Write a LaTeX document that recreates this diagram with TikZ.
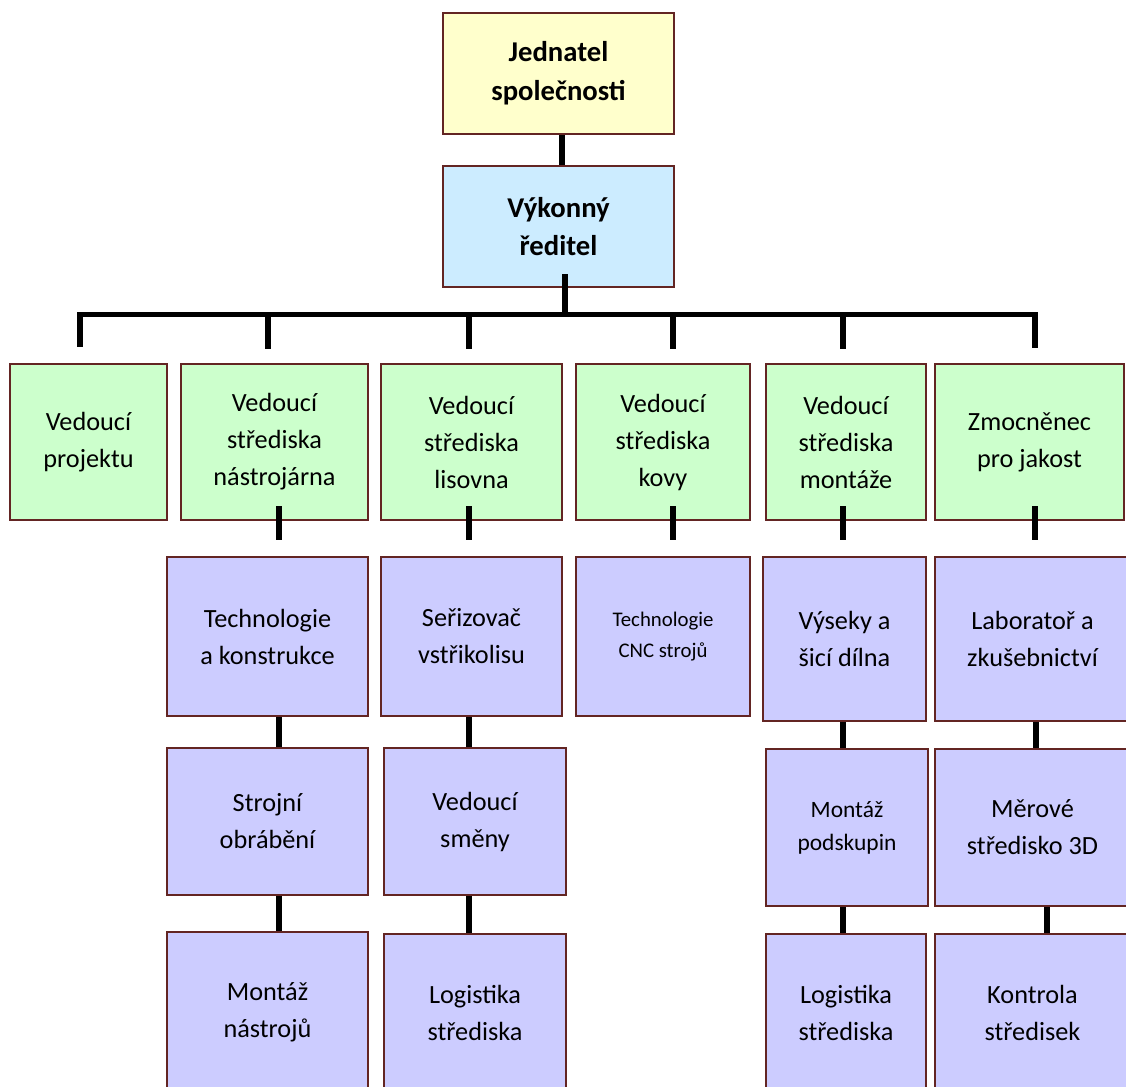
\documentclass[tikz,border=0pt]{standalone}
\usepackage{fontspec}
\setmainfont{Carlito}
\usetikzlibrary{positioning,calc}
\definecolor{boxborder}{RGB}{99,37,35}
\definecolor{headyellow}{RGB}{255,255,204}
\definecolor{dirblue}{RGB}{204,236,255}
\definecolor{leadgreen}{RGB}{204,255,204}
\definecolor{unitlilac}{RGB}{204,204,255}
\tikzset{
    block/.style={
        draw=boxborder,
        line width=2.1pt,
        rectangle,
        align=center,
        inner sep=0pt,
        font=\fontsize{19.7}{27.75}\selectfont
    },
    headblock/.style={
        block,
        fill=headyellow,
        font=\bfseries\fontsize{21.5}{29}\selectfont
    },
    dirblock/.style={
        headblock,
        fill=dirblue
    },
    leadblock/.style={
        block,
        fill=leadgreen,
        minimum height=117pt
    },
    unitblock/.style={
        block,
        fill=unitlilac
    },
    small_text/.style={
        font=\fontsize{15.6}{23.25}\selectfont
    },
    mid_text/.style={
        font=\fontsize{17.6}{24.75}\selectfont
    },
    link/.style={
        draw=black,
        line width=4.2pt
    },
}

\begin{document}
\begin{tikzpicture}[x=0.75pt, y=-0.75pt]
    \clip (0,0) rectangle (1126,1086);

    % top
    \node[headblock, minimum width=173.25pt, minimum height=90.75pt] (jed) at (558.5,73.5) {Jednatel\\společnosti};
    \node[dirblock, minimum width=173.25pt, minimum height=90.75pt] (vyk) at (558.5,226.5) {Výkonný\\ředitel};

    % leaders
    \node[leadblock, minimum width=117.75pt] (proj) at (88.5,442) {Vedoucí\\projektu};
    \node[leadblock, minimum width=140.25pt] (nastr) at (274.5,442) {Vedoucí\\střediska\\nástrojárna};
    \node[leadblock, minimum width=135.75pt] (lis) at (471.5,442) {Vedoucí\\střediska\\lisovna};
    \node[leadblock, minimum width=130.5pt] (kovy) at (663,442) {Vedoucí\\střediska\\kovy};
    \node[leadblock, minimum width=120pt] (mont) at (846,442) {Vedoucí\\střediska\\montáže};
    \node[leadblock, minimum width=141.75pt] (jak) at (1029.5,442) {Zmocněnec\\pro jakost};

    % units
    \node[unitblock, minimum width=150.75pt, minimum height=119.25pt] (tech) at (267.5,636.5) {Technologie\\a konstrukce};
    \node[unitblock, minimum width=135.75pt, minimum height=119.25pt] (seriz) at (471.5,636.5) {Seřizovač\\vstřikolisu};
    \node[unitblock, small_text, minimum width=130.5pt, minimum height=119.25pt] (cnc) at (663,636.5) {Technologie\\CNC strojů};
    \node[unitblock, minimum width=122.25pt, minimum height=123pt] (vys) at (844.5,639) {Výseky a\\šicí dílna};
    \node[unitblock, minimum width=146.25pt, minimum height=123pt] (lab) at (1032.5,639) {Laboratoř a\\zkušebnictví};

    \node[unitblock, minimum width=150.75pt, minimum height=110.25pt] (stroj) at (267.5,821.5) {Strojní\\obrábění};
    \node[unitblock, minimum width=136.5pt, minimum height=110.25pt] (smeny) at (475,821.5) {Vedoucí\\směny};
    \node[unitblock, mid_text, minimum width=121.5pt, minimum height=117.75pt] (podsk) at (847,827.5) {Montáž\\podskupin};
    \node[unitblock, minimum width=146.25pt, minimum height=117.75pt] (mer) at (1032.5,827.5) {Měrové\\středisko 3D};

    \node[unitblock, minimum width=150.75pt, minimum height=120pt] (mnastr) at (267.5,1012) {Montáž\\nástrojů};
    \node[unitblock, minimum width=136.5pt, minimum height=118.5pt] (logl) at (475,1013) {Logistika\\střediska};
    \node[unitblock, minimum width=120pt, minimum height=118.5pt] (logr) at (846,1013) {Logistika\\střediska};
    \node[unitblock, minimum width=146.25pt, minimum height=118.5pt] (kontr) at (1032.5,1013) {Kontrola\\středisek};

    % lines
    \draw[link] ($(jed.south)+(3.5,0)$) -- ($(vyk.north)+(3.5,0)$);
    \coordinate (bar) at ($(vyk.south)+(6.5,26)$);
    \draw[link] ($(vyk.south)+(6.5,-14)$) -- (bar);
    \draw[link] ($(proj.north)+(-8.5,-16)$) |- (bar) -| ($(jak.north)+(5.5,-15)$);
    \foreach \n/\dx in {nastr/-6.5, lis/-2.5, kovy/10, mont/-3}
        \draw[link] ($(\n.north |- bar)+(\dx,0)$) -- ++(0,35);

    \foreach \hi/\lo/\dx in {nastr/tech/4.5, lis/seriz/-2.5, kovy/cnc/10, mont/vys/-3, jak/lab/5.5}
        \draw[link] ($(\hi.south)+(\dx,-15)$) -- ($(\hi.south |- \lo.north)+(\dx,-16)$);

    \foreach \hi/\lo/\dx in {tech/stroj/11.5, seriz/smeny/-2.5, vys/podsk/-1.5, lab/mer/3.5,
                             stroj/mnastr/11.5, smeny/logl/-6, podsk/logr/-4, mer/kontr/14.5}
        \draw[link] ($(\hi.south)+(\dx,0)$) -- ($(\hi.south |- \lo.north)+(\dx,0)$);
\end{tikzpicture}
\end{document}
